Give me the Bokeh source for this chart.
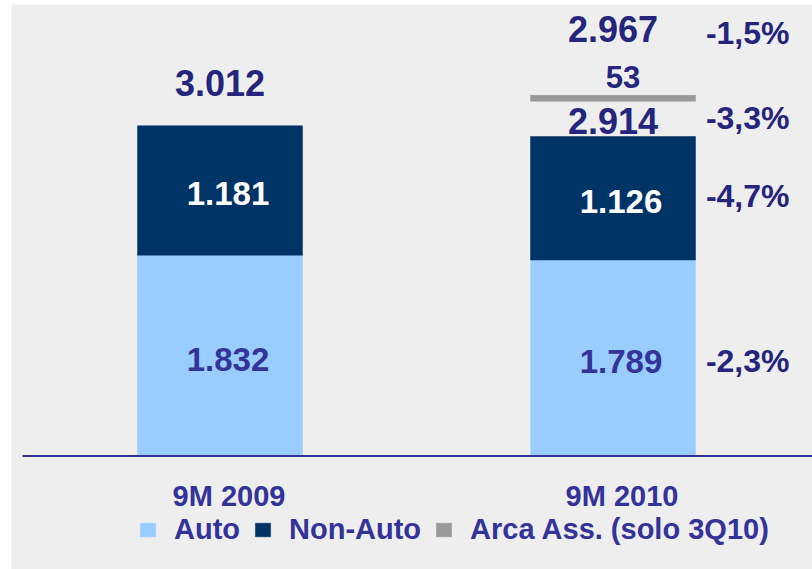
from bokeh.plotting import figure
from bokeh.models import Legend, LegendItem, ColumnDataSource
from bokeh.core.properties import value
from bokeh.embed import file_html
from bokeh.resources import INLINE

# ---------------- data ----------------
categories = ["9M 2009", "9M 2010"]
auto = [1832, 1789]
non_auto = [1181, 1126]
arca = [0, 53]
totals = [3012, 2914]
grand_total_2010 = 2967
pct_grand = "-1,5%"
pct_total = "-3,3%"
pct_non_auto = "-4,7%"
pct_auto = "-2,3%"
legend_labels = ["Auto", "Non-Auto", "Arca Ass. (solo 3Q10)"]

# ---------------- style ----------------
C_AUTO = "#99CCFF"
C_NONAUTO = "#003366"
C_ARCA = "#999999"
C_TEXT = "#333399"
C_DARK = "#25257d"
FONT_NAME = "Liberation Sans"
FONT = value(FONT_NAME)

W, H = 812, 569
BORDER_L, BORDER_T = 11, 4
FW, FH = W - BORDER_L, H - BORDER_T
PX_PER_UNIT_Y = 0.1096
PX_PER_UNIT_X = 393.0
PXY = 1.0 / PX_PER_UNIT_Y
PXX = 1.0 / PX_PER_UNIT_X
BASE_FROM_TOP = 455.5 - BORDER_T
Y_END = BASE_FROM_TOP * PXY
Y_START = -(FH - BASE_FROM_TOP) * PXY
X_START = -(219.5 - BORDER_L) * PXX
X_END = X_START + FW * PXX
BAR_W = 165 * PXX

def fmt(v):
    return f"{v:,}".replace(",", ".")

xs = list(range(len(categories)))

p = figure(width=W, height=H, x_range=(X_START, X_END), y_range=(Y_START, Y_END),
           output_backend="svg", toolbar_location=None,
           min_border_left=BORDER_L, min_border_top=BORDER_T,
           min_border_right=0, min_border_bottom=0,
           x_axis_location=None, y_axis_location=None,
           background_fill_color="#eeeeee", border_fill_color="white",
           outline_line_color=None)
p.grid.visible = False

src = ColumnDataSource(dict(x=xs, auto=auto, non_auto=non_auto))
rs = p.vbar_stack(["auto", "non_auto"], x="x", width=BAR_W, source=src,
                  fill_color=[C_AUTO, C_NONAUTO], line_color=[C_AUTO, C_NONAUTO], line_width=0.5)

# Arca bar floats above the 2010 total label
ax = [x for x, a in zip(xs, arca) if a > 0]
a_tot = [t for t, a in zip(totals, arca) if a > 0]
a_val = [a for a in arca if a > 0]
a_bottom = [t + 35.5 * PXY for t in a_tot]
a_top = [b + a for b, a in zip(a_bottom, a_val)]
r_arca = p.vbar(x=ax, bottom=a_bottom, top=a_top, width=BAR_W,
                fill_color=C_ARCA, line_color=C_ARCA, line_width=0.5)

# baseline
p.segment(x0=[X_START + 11 * PXX], y0=[0], x1=[X_END], y1=[0],
          line_color=C_TEXT, line_width=2)

# text positions below are the vertical centre of the digits
TXT = dict(text_font=FONT, text_font_style="bold", text_baseline="alphabetic")

# inner segment labels
auto_y = [a / 2 - 3.5 * PXY for a in auto]
non_y = [a + n / 2 - 3.5 * PXY for a, n in zip(auto, non_auto)]
p.text(x=xs, y=auto_y, text=[fmt(v) for v in auto], text_color=C_TEXT,
       text_font_size="33px", text_align="center", x_offset=8, **TXT)
p.text(x=xs, y=non_y, text=[fmt(v) for v in non_auto], text_color="white",
       text_font_size="33px", text_align="center", x_offset=8, **TXT)

# totals above bars
tot_y = [t + (43 if a == 0 else 16) * PXY for t, a in zip(totals, arca)]
p.text(x=xs, y=tot_y, text=[fmt(v) for v in totals], text_color=C_DARK,
       text_font_size="36px", text_align="center", **TXT)

# Arca value and grand total
p.text(x=ax, y=[t + 18 * PXY for t in a_top], text=[fmt(v) for v in a_val], text_color=C_DARK,
       text_font_size="31px", text_align="center", x_offset=10, **TXT)
gt_y = [t + 66.7 * PXY for t in a_top]
p.text(x=ax, y=gt_y, text=[fmt(grand_total_2010)], text_color=C_DARK,
       text_font_size="36px", text_align="center", **TXT)

# percentage changes (right column)
i = 1
pct_x = (789 - 219.5) * PXX
pct_y = [a_top[0] + 62.5 * PXY,
         totals[i] + 18.5 * PXY,
         auto[i] + non_auto[i] / 2 + 2.7 * PXY,
         auto[i] / 2 - 3 * PXY]
p.text(x=[pct_x] * 4, y=pct_y, text=[pct_grand, pct_total, pct_non_auto, pct_auto],
       text_color=C_DARK, text_font_size="32px", text_align="right", **TXT)

# category labels
p.text(x=xs, y=[-39.5 * PXY] * len(xs), text=categories, text_color=C_TEXT,
       text_font_size="29px", text_align="center", x_offset=9, **TXT)

legend = Legend(items=[LegendItem(label=legend_labels[0], renderers=[rs[0]]),
                       LegendItem(label=legend_labels[1], renderers=[rs[1]]),
                       LegendItem(label=legend_labels[2], renderers=[r_arca])],
                orientation="horizontal", location=(127, 23),
                label_text_font=FONT_NAME, label_text_font_size="29px",
                label_text_font_style="bold", label_text_color=C_TEXT,
                glyph_width=19, glyph_height=17, label_standoff=17, spacing=13,
                padding=0, margin=0, border_line_color=None, background_fill_alpha=0)
p.add_layout(legend, "center")

open("out.html", "w").write(file_html(p, INLINE))
